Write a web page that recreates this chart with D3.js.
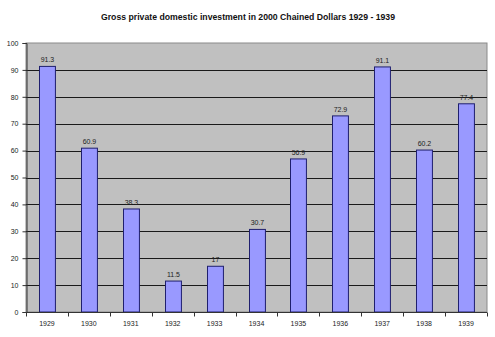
<!DOCTYPE html>
<html>
<head>
<meta charset="utf-8">
<script src="https://cdn.jsdelivr.net/npm/d3@7"></script>
<style>
  html, body { margin: 0; padding: 0; background: #ffffff; }
  svg { display: block; font-family: "Liberation Sans", Arial, sans-serif; }
</style>
</head>
<body>
<svg id="chart" width="495" height="337"></svg>
<script>
// Gross private domestic investment, billions of 2000 chained dollars
const years = ["1929", "1930", "1931", "1932", "1933", "1934", "1935", "1936", "1937", "1938", "1939"];
const investment = [91.3, 60.9, 38.3, 11.5, 17, 30.7, 56.9, 72.9, 91.1, 60.2, 77.4];
const yTicks = [0, 10, 20, 30, 40, 50, 60, 70, 80, 90, 100];
const title = "Gross private domestic investment in 2000 Chained Dollars 1929 - 1939";

const svg = d3.select("#chart");
const plot = { left: 26, right: 487, top: 43, bottom: 312 };

const x = d3.scaleBand().domain(years).range([plot.left, plot.right]).paddingInner(0.62).paddingOuter(0.31);
const xOuter = d3.scaleBand().domain(years).range([plot.left, plot.right]);
const y = d3.scaleLinear().domain([0, 100]).range([plot.bottom, plot.top]);

// Title
svg.append("text")
  .attr("x", 248).attr("y", 19.5)
  .attr("text-anchor", "middle")
  .attr("font-size", 8.7).attr("font-weight", "bold")
  .attr("fill", "#111")
  .text(title);

// Plot background
svg.append("rect")
  .attr("x", plot.left).attr("y", plot.top)
  .attr("width", plot.right - plot.left).attr("height", plot.bottom - plot.top)
  .attr("fill", "#c0c0c0")
  .attr("stroke", "#8a8a8a").attr("stroke-width", 1);

// Horizontal gridlines
svg.append("g").selectAll("line")
  .data(yTicks.filter(d => d > 0 && d < 100))
  .join("line")
  .attr("x1", plot.left).attr("x2", plot.right)
  .attr("y1", d => Math.round(y(d)) + 0.5).attr("y2", d => Math.round(y(d)) + 0.5)
  .attr("stroke", "#1a1a1a").attr("stroke-width", 1);

// Bars
svg.append("g").selectAll("rect")
  .data(investment)
  .join("rect")
  .attr("x", (d, i) => Math.round(x(years[i])) + 0.5)
  .attr("y", d => y(d))
  .attr("width", x.bandwidth())
  .attr("height", d => plot.bottom - y(d))
  .attr("fill", "#9999ff")
  .attr("stroke", "#1f1f6e").attr("stroke-width", 1);

// Value labels
svg.append("g").selectAll("text")
  .data(investment)
  .join("text")
  .attr("x", (d, i) => Math.round(x(years[i])) + 0.5 + x.bandwidth() / 2)
  .attr("y", d => y(d) - 4)
  .attr("text-anchor", "middle")
  .attr("font-size", 7).attr("fill", "#222")
  .text(d => d);

// Y axis
const yAxis = d3.axisLeft(y).tickValues(yTicks).tickSize(4).tickPadding(4);
const gy = svg.append("g").attr("transform", `translate(${plot.left + 0.5},0)`).call(yAxis);
gy.select(".domain").attr("stroke", "#333");
gy.selectAll(".tick line").attr("stroke", "#333");
gy.selectAll(".tick text").attr("font-size", 7).attr("fill", "#222")
  .attr("font-family", "Liberation Sans, Arial, sans-serif");

// X axis: ticks sit between categories
const gx = svg.append("g").attr("transform", `translate(0,${plot.bottom + 0.5})`);
gx.append("line")
  .attr("x1", plot.left).attr("x2", plot.right)
  .attr("stroke", "#333");
const bounds = years.map(d => xOuter(d)).concat([plot.right]);
gx.selectAll("line.tk")
  .data(bounds)
  .join("line").attr("class", "tk")
  .attr("x1", d => Math.round(d) + 0.5).attr("x2", d => Math.round(d) + 0.5)
  .attr("y1", 0).attr("y2", 4)
  .attr("stroke", "#333");
gx.selectAll("text")
  .data(years)
  .join("text")
  .attr("x", d => xOuter(d) + xOuter.bandwidth() / 2)
  .attr("y", 13)
  .attr("text-anchor", "middle")
  .attr("font-size", 7).attr("fill", "#222")
  .text(d => d);
</script>
</body>
</html>
